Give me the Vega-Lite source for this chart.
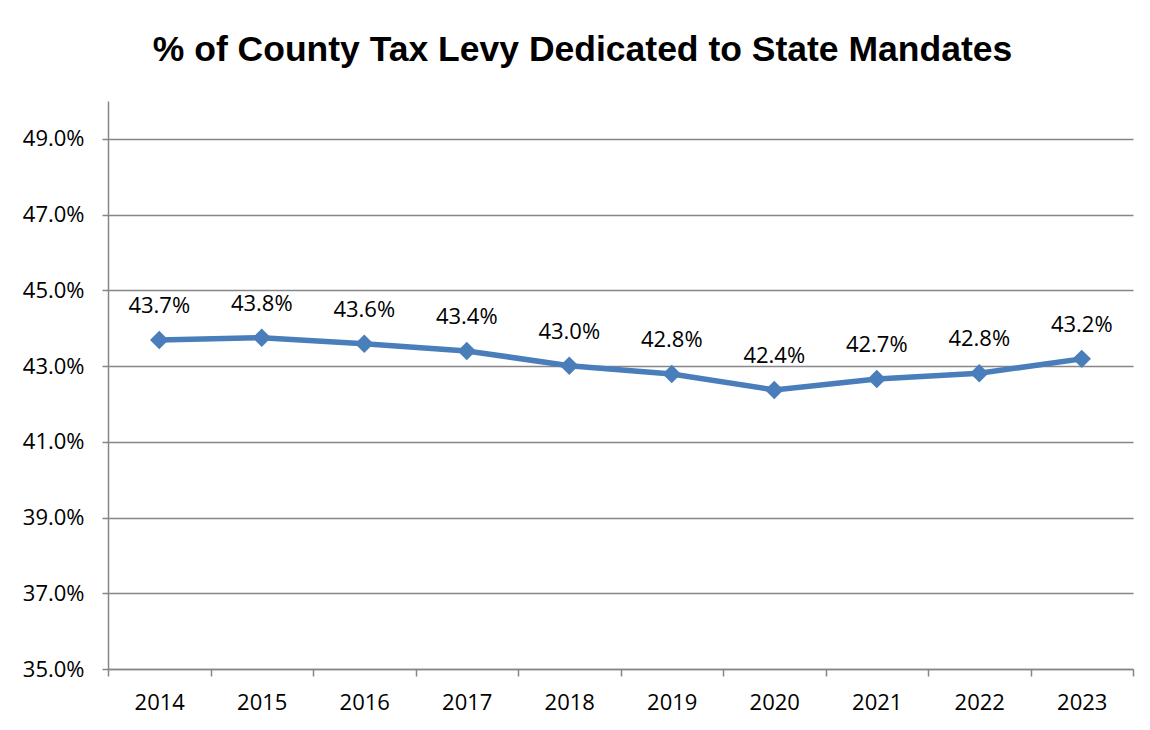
{
  "$schema": "https://vega.github.io/schema/vega-lite/v6.json",
  "width": 1025,
  "height": 568,
  "autosize": {"type": "none"},
  "padding": {"left": 108, "top": 101, "right": 17, "bottom": 61},
  "background": "white",
  "title": {
    "text": "% of County Tax Levy Dedicated to State Mandates",
    "font": "Liberation Sans",
    "fontSize": 35.5,
    "fontWeight": "bold",
    "color": "black",
    "anchor": "middle",
    "frame": "group",
    "dx": -38,
    "baseline": "alphabetic",
    "offset": 5
  },
  "data": {
    "values": [
      {"year": "2014", "value": 0.4369},
      {"year": "2015", "value": 0.4375},
      {"year": "2016", "value": 0.4359},
      {"year": "2017", "value": 0.4340},
      {"year": "2018", "value": 0.4301},
      {"year": "2019", "value": 0.4279},
      {"year": "2020", "value": 0.4237},
      {"year": "2021", "value": 0.4266},
      {"year": "2022", "value": 0.4281},
      {"year": "2023", "value": 0.4319}
    ]
  },
  "encoding": {
    "x": {
      "field": "year",
      "type": "ordinal",
      "scale": {"type": "band", "paddingInner": 0, "paddingOuter": 0},
      "axis": {
        "title": null,
        "labelAngle": 0,
        "tickBand": "extent",
        "tickSize": 7,
        "labelPadding": 16,
        "grid": false
      }
    },
    "y": {
      "field": "value",
      "type": "quantitative",
      "scale": {"domain": [0.35, 0.50], "nice": false, "zero": false},
      "axis": {
        "title": null,
        "values": [0.35, 0.37, 0.39, 0.41, 0.43, 0.45, 0.47, 0.49],
        "format": ".1%",
        "tickSize": 6,
        "labelPadding": 18,
        "grid": true
      }
    }
  },
  "layer": [
    {
      "mark": {
        "type": "line",
        "color": "#4a7ebb",
        "strokeWidth": 5.5,
        "point": {"shape": "diamond", "size": 340, "filled": true, "color": "#4a7ebb", "opacity": 1}
      }
    },
    {
      "mark": {
        "type": "text",
        "dy": -27,
        "baseline": "alphabetic",
        "font": "Open Sans",
        "fontSize": 22,
        "color": "black"
      },
      "encoding": {
        "text": {"field": "value", "type": "quantitative", "format": ".1%"}
      }
    }
  ],
  "config": {
    "view": {"stroke": null},
    "axis": {
      "labelFont": "Open Sans",
      "labelFontSize": 22,
      "labelColor": "black",
      "domainColor": "#868686",
      "tickColor": "#868686",
      "gridColor": "#868686",
      "domainWidth": 1.5,
      "tickWidth": 1.5,
      "gridWidth": 1.5
    }
  }
}
